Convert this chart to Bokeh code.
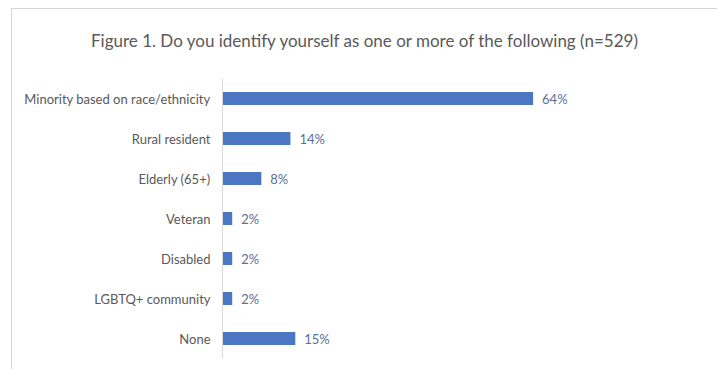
from bokeh.plotting import figure
from bokeh.models import ColumnDataSource, Range1d, LabelSet, Div
from bokeh.layouts import column
from bokeh.core.properties import value
from bokeh.embed import file_html
from bokeh.resources import INLINE

categories = ["Minority based on race/ethnicity", "Rural resident", "Elderly (65+)",
              "Veteran", "Disabled", "LGBTQ+ community", "None"]
values = [64, 14, 8, 2, 2, 2, 15]
value_labels = ["64%", "14%", "8%", "2%", "2%", "2%", "15%"]
title_text = "Figure 1. Do you identify yourself as one or more of the following (n=529)"

FONT = "Lato"

src = ColumnDataSource(dict(cat=categories, val=values, lab=value_labels))

title_div = Div(text=title_text, width=705, height=69, margin=0,
                styles={"font-family": FONT, "font-size": "17px", "color": "#595959",
                        "line-height": "20px", "white-space": "nowrap",
                        "padding-left": "79px", "padding-top": "22px",
                        "box-sizing": "border-box"})

p = figure(width=705, height=291, output_backend="svg", toolbar_location=None,
           y_range=list(reversed(categories)), x_range=Range1d(0, 98.5),
           min_border_left=210, min_border_right=17, min_border_top=0, min_border_bottom=11)
p.title = None

p.hbar(y="cat", right="val", left=0, height=0.33, source=src,
       fill_color="#4A76C2", line_color=None)

labels = LabelSet(x="val", y="cat", text="lab", source=src, x_offset=9, y_offset=0,
                  text_baseline="middle", text_font=value(FONT), text_font_size="13px",
                  text_color="#5B6E98")
p.add_layout(labels)

p.xaxis.visible = False
p.xgrid.visible = False
p.ygrid.visible = False
p.outline_line_color = None
p.yaxis.axis_line_color = "#D9D9D9"
p.yaxis.major_tick_line_color = None
p.yaxis.minor_tick_line_color = None
p.yaxis.major_label_text_font = FONT
p.yaxis.major_label_text_font_size = "13px"
p.yaxis.major_label_text_color = "#595959"
p.yaxis.major_label_standoff = 6

layout = column(title_div, p, spacing=0,
                styles={"margin-left": "11px", "margin-top": "8px",
                        "border-left": "1px solid #D4D4D4", "border-top": "1px solid #D4D4D4"})

open("out.html", "w").write(file_html(layout, INLINE))
